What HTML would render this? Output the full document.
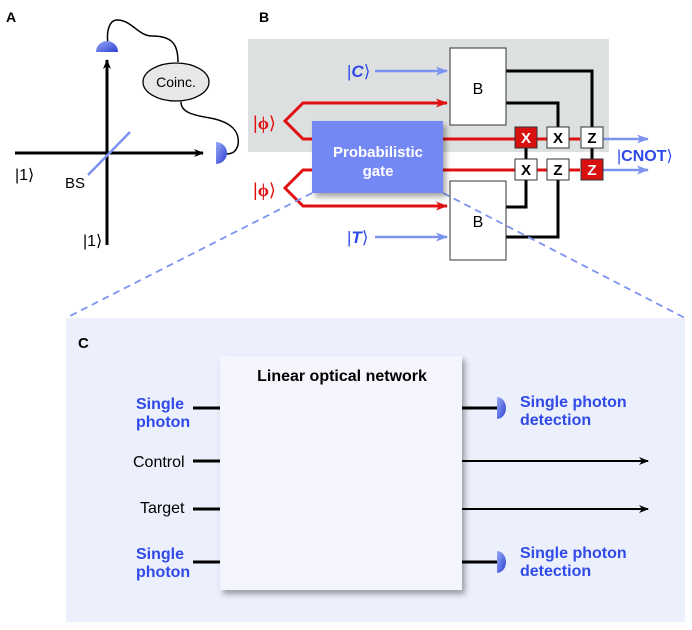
<!DOCTYPE html>
<html><head><meta charset="utf-8"><style>
body{margin:0;background:#fff;}
svg{display:block;font-family:"Liberation Sans",sans-serif;}
</style></head><body>
<svg width="692" height="630" viewBox="0 0 692 630" xmlns="http://www.w3.org/2000/svg">
<defs>
<marker id="ab" markerWidth="10" markerHeight="8" refX="9" refY="4" orient="auto" markerUnits="userSpaceOnUse"><path d="M0,0 L10,4 L0,8 L3,4Z" fill="#000"/></marker>
<marker id="ar" markerWidth="12" markerHeight="9" refX="11" refY="4.5" orient="auto" markerUnits="userSpaceOnUse"><path d="M0,0 L12,4.5 L0,9 L3,4.5Z" fill="#e01010"/></marker>
<marker id="au" markerWidth="12" markerHeight="9" refX="11" refY="4.5" orient="auto" markerUnits="userSpaceOnUse"><path d="M0,0 L12,4.5 L0,9 L3,4.5Z" fill="#7d93f0"/></marker>
<linearGradient id="det" x1="0" y1="0" x2="1" y2="1"><stop offset="0" stop-color="#9aaaf8"/><stop offset="1" stop-color="#2c40d0"/></linearGradient>
<filter id="sh" x="-10%" y="-10%" width="130%" height="130%"><feDropShadow dx="3" dy="4" stdDeviation="3" flood-color="#000" flood-opacity="0.35"/></filter>
</defs>

<!-- Panel A -->
<text x="6" y="22" font-size="14" font-weight="bold">A</text>
<path d="M108,44 C106,30 110,20 117,20 C132,20 138,36 152,36 C172,36 178,44 178,62" fill="none" stroke="#000" stroke-width="1.5"/>
<path d="M181,102 C181,112 192,115 210,118 C232,122 240,132 238,145 C236,152 232,154 226,154" fill="none" stroke="#000" stroke-width="1.5"/>
<ellipse cx="176" cy="82" rx="33" ry="19" fill="#e8e8e8" stroke="#000" stroke-width="1.3"/>
<text x="176" y="87" font-size="14" text-anchor="middle">Coinc.</text>
<line x1="107" y1="245" x2="107" y2="60" stroke="#000" stroke-width="3" marker-end="url(#ab)"/>
<line x1="15" y1="153" x2="203" y2="153" stroke="#000" stroke-width="3" marker-end="url(#ab)"/>
<line x1="88" y1="175" x2="130" y2="132" stroke="#7d93f0" stroke-width="2.5"/>
<path d="M96,52 A11,11 0 0 1 118,52 Z" fill="url(#det)"/>
<path d="M216,142 A11,11 0 0 1 216,164 Z" fill="url(#det)"/>
<text x="15" y="180" font-size="16">|1⟩</text>
<text x="65" y="188" font-size="15">BS</text>
<text x="83" y="246" font-size="16">|1⟩</text>

<!-- Panel B -->
<text x="259" y="22" font-size="14" font-weight="bold">B</text>
<rect x="248" y="39" width="361" height="113" fill="#dde0e0"/>
<g fill="none" stroke="#000" stroke-width="3">
<path d="M506,71 H592 V160"/>
<path d="M506,103 H558 V128"/>
<path d="M526,148 V160"/>
<path d="M506,207 H526 V180"/>
<path d="M506,237 H558 V180"/>
</g>
<g fill="none" stroke="#e01010" stroke-width="3">
<path d="M443,103 H303 L285,121 L303,139 H312"/>
<path d="M443,206 H303 L285,188 L303,170 H312"/>
<line x1="443" y1="139" x2="580" y2="139"/>
<line x1="443" y1="170" x2="580" y2="170"/>
</g>
<line x1="304" y1="103" x2="447" y2="103" stroke="#e01010" stroke-width="3" marker-end="url(#ar)"/>
<line x1="304" y1="206" x2="447" y2="206" stroke="#e01010" stroke-width="3" marker-end="url(#ar)"/>
<line x1="375" y1="71" x2="447" y2="71" stroke="#7d93f0" stroke-width="2.5" marker-end="url(#au)"/>
<line x1="375" y1="237" x2="447" y2="237" stroke="#7d93f0" stroke-width="2.5" marker-end="url(#au)"/>
<line x1="603" y1="139" x2="648" y2="139" stroke="#7d93f0" stroke-width="2.5" marker-end="url(#au)"/>
<line x1="603" y1="170" x2="648" y2="170" stroke="#7d93f0" stroke-width="2.5" marker-end="url(#au)"/>
<rect x="450" y="48" width="56" height="77" fill="#fff" stroke="#333" stroke-width="1"/>
<rect x="450" y="181" width="56" height="79" fill="#fff" stroke="#333" stroke-width="1"/>
<text x="478" y="94" font-size="16" text-anchor="middle">B</text>
<text x="478" y="227" font-size="16" text-anchor="middle">B</text>
<!-- dashed zoom lines -->
<line x1="312" y1="193" x2="66" y2="318" stroke="#7d93f0" stroke-width="1.8" stroke-dasharray="7,5"/>
<line x1="443" y1="193" x2="685" y2="318" stroke="#7d93f0" stroke-width="1.8" stroke-dasharray="7,5"/>
<rect x="312" y="121" width="131" height="72" fill="#7388f5" filter="url(#sh)"/>
<text x="378" y="157" font-size="15" font-weight="bold" fill="#fff" text-anchor="middle">Probabilistic</text>
<text x="378" y="176" font-size="15" font-weight="bold" fill="#fff" text-anchor="middle">gate</text>
<g font-size="15" font-weight="bold" text-anchor="middle" stroke-width="1">
<rect x="515" y="127" width="22" height="21" fill="#d81010" stroke="#333"/><text x="526" y="143" fill="#fff">X</text>
<rect x="547" y="127" width="22" height="21" fill="#fff" stroke="#333"/><text x="558" y="143">X</text>
<rect x="581" y="127" width="22" height="21" fill="#fff" stroke="#333"/><text x="592" y="143">Z</text>
<rect x="515" y="159" width="22" height="21" fill="#fff" stroke="#333"/><text x="526" y="175">X</text>
<rect x="547" y="159" width="22" height="21" fill="#fff" stroke="#333"/><text x="558" y="175">Z</text>
<rect x="581" y="159" width="22" height="21" fill="#d81010" stroke="#333"/><text x="592" y="175" fill="#fff">Z</text>
</g>
<text x="347" y="77" font-size="17" fill="#2f4ae8" font-weight="bold"><tspan font-weight="normal">|</tspan><tspan font-style="italic">C</tspan><tspan font-weight="normal">⟩</tspan></text>
<text x="347" y="243" font-size="17" fill="#2f4ae8" font-weight="bold"><tspan font-weight="normal">|</tspan><tspan font-style="italic">T</tspan><tspan font-weight="normal">⟩</tspan></text>
<text x="253" y="129" font-size="18" fill="#e01010">|<tspan font-weight="bold" font-family="Liberation Serif">ϕ</tspan>⟩</text>
<text x="253" y="196" font-size="18" fill="#e01010">|<tspan font-weight="bold" font-family="Liberation Serif">ϕ</tspan>⟩</text>
<text x="617" y="161" font-size="16" fill="#2f4ae8">|<tspan font-weight="bold">CNOT</tspan>⟩</text>

<!-- Panel C -->
<rect x="66" y="318" width="619" height="304" fill="#eceffc"/>
<text x="78" y="348" font-size="15" font-weight="bold">C</text>
<g stroke="#000" stroke-width="3">
<line x1="193" y1="408" x2="220" y2="408"/>
<line x1="193" y1="461" x2="220" y2="461"/>
<line x1="193" y1="509" x2="220" y2="509"/>
<line x1="193" y1="562" x2="220" y2="562"/>
<line x1="462" y1="408" x2="497" y2="408"/>
<line x1="462" y1="562" x2="497" y2="562"/>
</g>
<line x1="462" y1="461" x2="648" y2="461" stroke="#000" stroke-width="2" marker-end="url(#ab)"/>
<line x1="462" y1="509" x2="648" y2="509" stroke="#000" stroke-width="2" marker-end="url(#ab)"/>
<rect x="220" y="356" width="242" height="234" fill="#f5f6fd" filter="url(#sh)"/>
<path d="M497,397 A9,11 0 0 1 497,419 Z" fill="url(#det)"/>
<path d="M497,551 A9,11 0 0 1 497,573 Z" fill="url(#det)"/>
<text x="342" y="381" font-size="16" font-weight="bold" text-anchor="middle">Linear optical network</text>
<g font-size="16" font-weight="bold" fill="#2f4ae8">
<text x="136" y="409">Single</text><text x="136" y="427">photon</text>
<text x="136" y="559">Single</text><text x="136" y="577">photon</text>
<text x="520" y="407">Single photon</text><text x="520" y="425">detection</text>
<text x="520" y="558">Single photon</text><text x="520" y="576">detection</text>
</g>
<text x="133" y="467" font-size="16">Control</text>
<text x="140" y="513" font-size="16">Target</text>
</svg>
</body></html>
